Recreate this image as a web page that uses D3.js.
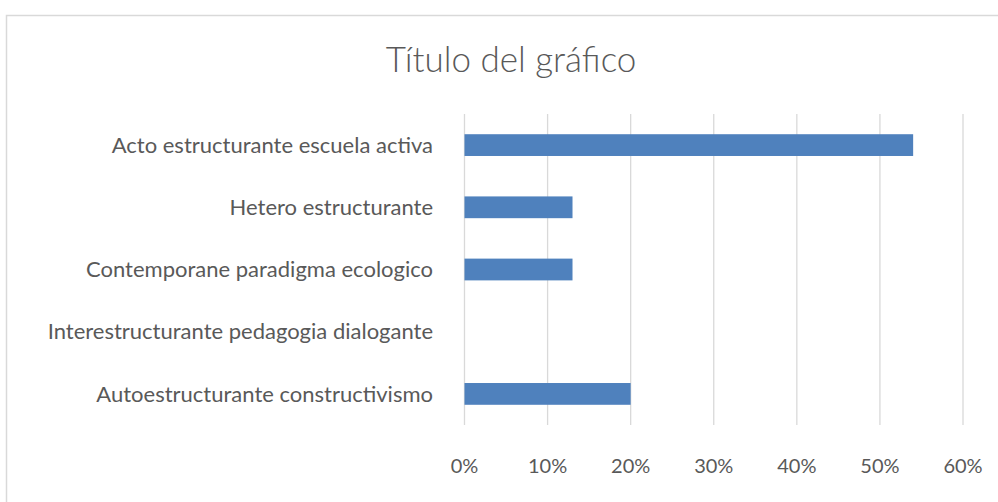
<!DOCTYPE html>
<html>
<head>
<meta charset="utf-8">
<script src="https://cdn.jsdelivr.net/npm/d3@7"></script>
<style>
  body { margin: 0; background: #fff; }
  svg { display: block; font-family: Lato, "Open Sans", sans-serif; }
</style>
</head>
<body>
<svg id="chart" width="998" height="502"></svg>
<script>
// data
var categories = [
    "Acto estructurante escuela activa",
    "Hetero estructurante",
    "Contemporane paradigma ecologico",
    "Interestructurante pedagogia dialogante",
    "Autoestructurante constructivismo"
];
var values = [0.54, 0.13, 0.13, 0, 0.20];
var ticks = [0, 0.1, 0.2, 0.3, 0.4, 0.5, 0.6];
var title = "Título del gráfico";

var svg = d3.select("#chart");
var width = +svg.attr("width");
var height = +svg.attr("height");

var plot = { left: 464.5, right: 963, top: 114, bottom: 425 };

// outer chart frame (runs off the right and bottom edges)
svg.append("rect")
    .attr("x", 6.5)
    .attr("y", 15.5)
    .attr("width", width + 20)
    .attr("height", height + 20)
    .attr("fill", "#fff")
    .attr("stroke", "#d9d9d9")
    .attr("stroke-width", 1.5);

svg.append("text")
    .attr("x", 511)
    .attr("y", 72)
    .attr("text-anchor", "middle")
    .attr("fill", "#595959")
    .style("font-size", "35px")
    .style("font-weight", 300)
    .text(title);

var x = d3.scaleLinear().domain([0, 0.6]).range([plot.left, plot.right]);
var y = d3.scaleBand().domain(categories).range([plot.top, plot.bottom]).paddingInner(0.65).paddingOuter(0.325);
var yRow = d3.scaleBand().domain(categories).range([plot.top, plot.bottom]);

// vertical gridlines
svg.append("g")
    .selectAll("line")
    .data(ticks)
    .enter().append("line")
    .attr("x1", function(d) { return x(d); })
    .attr("x2", function(d) { return x(d); })
    .attr("y1", plot.top)
    .attr("y2", plot.bottom)
    .attr("stroke", "#d9d9d9")
    .attr("stroke-width", 1.3);

// x axis labels
svg.append("g")
    .selectAll("text")
    .data(ticks)
    .enter().append("text")
    .attr("x", function(d) { return x(d); })
    .attr("y", 466)
    .attr("dy", "0.35em")
    .attr("text-anchor", "middle")
    .attr("fill", "#595959")
    .style("font-size", "20px")
    .text(d3.format(".0%"));

// bars
svg.append("g")
    .selectAll("rect")
    .data(values)
    .enter().append("rect")
    .attr("x", x(0))
    .attr("y", function(d, i) { return y(categories[i]); })
    .attr("width", function(d) { return x(d) - x(0); })
    .attr("height", y.bandwidth())
    .attr("fill", "#4f81bd");

// category labels
svg.append("g")
    .selectAll("text")
    .data(categories)
    .enter().append("text")
    .attr("x", 433)
    .attr("y", function(d) { return yRow(d) + yRow.bandwidth() / 2; })
    .attr("dy", "0.35em")
    .attr("text-anchor", "end")
    .attr("fill", "#595959")
    .style("font-size", "22px")
    .text(function(d) { return d; });
</script>
</body>
</html>
